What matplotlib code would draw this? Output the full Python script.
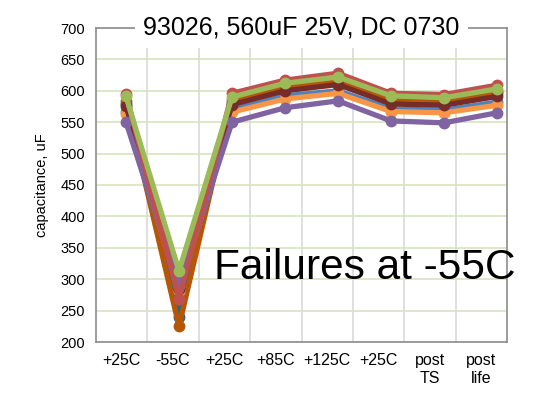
import numpy as np
import matplotlib.pyplot as plt

plt.rcParams['font.family'] = ['Liberation Sans', 'DejaVu Sans']

# category labels on the x axis
categories = ['+25C', '-55C', '+25C', '+85C', '+125C', '+25C', 'post\nTS', 'post\nlife']

# capacitance readings (uF), one list per part, in drawing order
dark_teal = [579, 240, 581, 604, 614, 583, 581, 596]
dark_orange = [583, 225, 585, 607, 617, 587, 585, 599]
blue = [567, 297, 570, 592, 600, 571, 569, 582]
orange = [563, 282, 566, 587, 596, 567, 565, 577]
dark_red = [576, 284, 578, 600, 610, 579, 577, 591]
purple = [550, 289, 550, 573, 584, 552, 549, 565]
red = [595, 268, 596, 617, 628, 596, 594, 609]
green = [591, 313, 590, 612, 622, 592, 589, 603]

series = [dark_teal, dark_orange, blue, orange, dark_red, purple, red, green]
colors = ['#276A7C', '#B65708', '#4F81BD', '#F79646', '#772C2A', '#8064A2', '#C0504D', '#9BBB59']

fig = plt.figure(figsize=(5.38, 4.0), dpi=100)
ax = fig.add_axes([96/538, 58/400, 411/538, 314/400])

# category axis: labels centred between the vertical gridlines
ax.set_xlim(0, 8)
ax.set_ylim(200, 700)
ax.set_xticks(np.arange(8) + 0.5)
ax.set_xticklabels(categories, fontsize=11.5)
ax.set_xticks(np.arange(1, 8), minor=True)
ax.set_yticks(np.arange(200, 701, 50))
ax.tick_params(axis='y', length=0, labelsize=10.5, pad=8)
ax.tick_params(axis='x', length=0, pad=8)
ax.tick_params(axis='x', which='minor', length=0)
ax.grid(axis='y', which='major', color='#D7E4BD', linewidth=1.2)
ax.grid(axis='x', which='minor', color='#D9D9D9', linewidth=1.2)
ax.set_axisbelow(True)
for s in ax.spines.values():
    s.set_color('#8C8C8C')
    s.set_linewidth(1.2)
ax.set_ylabel('capacitance, uF', fontsize=10.5, labelpad=8)

# data axis sharing y, points slightly offset from the category centres
ax2 = ax.twiny()
ax2.set_xlim(-0.566, 7.189)
ax2.axis('off')
x = np.arange(len(categories))
for vals, c in zip(series, colors):
    ax2.plot(x, vals, color=c, linewidth=3.8, marker='o', markersize=7.5,
             solid_joinstyle='round', zorder=3)

ax.text(0.5, 1.0, '93026, 560uF 25V, DC 0730', transform=ax.transAxes,
        ha='center', va='center', fontsize=18,
        bbox=dict(facecolor='white', edgecolor='none', pad=6), zorder=5)
ax.text(1.02, 0.235, 'Failures at -55C', transform=ax.transAxes,
        ha='right', va='center', fontsize=30.5, zorder=6)

fig.savefig('out.png', dpi=100)
